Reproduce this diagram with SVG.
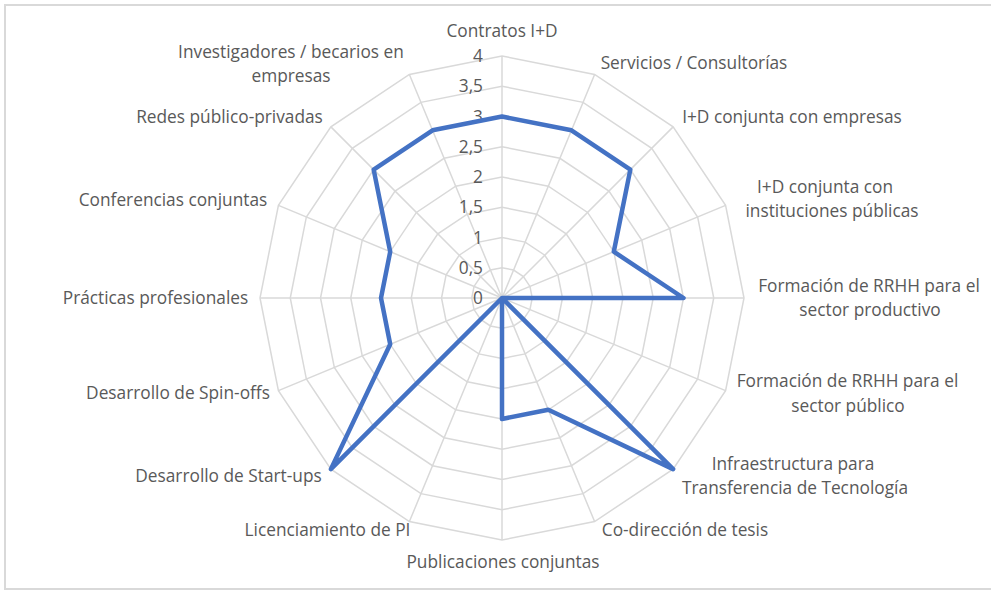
<svg xmlns="http://www.w3.org/2000/svg" width="991" height="590" viewBox="0 0 991 590">
<style>
.grid{fill:none;stroke:#d9d9d9;stroke-width:1.5}
.lbl{font-family:"Open Sans","Liberation Sans",sans-serif;font-size:17.3px;fill:#595959;text-anchor:middle}
.tick{font-family:"Open Sans","Liberation Sans",sans-serif;font-size:17.3px;fill:#595959;text-anchor:end}
.data{fill:none;stroke:#4472c4;stroke-width:4.5;stroke-linejoin:round;stroke-linecap:round}
</style>
<rect x="0" y="0" width="991" height="590" fill="#ffffff"/>
<rect x="5" y="5" width="990" height="584" fill="none" stroke="#d9d9d9" stroke-width="2"/>
<g id="grid" class="grid" transform="translate(502,298)">
<polygon points="0,-30.25 11.58,-27.95 21.39,-21.39 27.95,-11.58 30.25,0 27.95,11.58 21.39,21.39 11.58,27.95 0,30.25 -11.58,27.95 -21.39,21.39 -27.95,11.58 -30.25,0 -27.95,-11.58 -21.39,-21.39 -11.58,-27.95"/>
<polygon points="0,-60.5 23.15,-55.89 42.78,-42.78 55.89,-23.15 60.5,0 55.89,23.15 42.78,42.78 23.15,55.89 0,60.5 -23.15,55.89 -42.78,42.78 -55.89,23.15 -60.5,0 -55.89,-23.15 -42.78,-42.78 -23.15,-55.89"/>
<polygon points="0,-90.75 34.73,-83.84 64.17,-64.17 83.84,-34.73 90.75,0 83.84,34.73 64.17,64.17 34.73,83.84 0,90.75 -34.73,83.84 -64.17,64.17 -83.84,34.73 -90.75,0 -83.84,-34.73 -64.17,-64.17 -34.73,-83.84"/>
<polygon points="0,-121 46.3,-111.79 85.56,-85.56 111.79,-46.3 121,0 111.79,46.3 85.56,85.56 46.3,111.79 0,121 -46.3,111.79 -85.56,85.56 -111.79,46.3 -121,0 -111.79,-46.3 -85.56,-85.56 -46.3,-111.79"/>
<polygon points="0,-151.25 57.88,-139.74 106.95,-106.95 139.74,-57.88 151.25,0 139.74,57.88 106.95,106.95 57.88,139.74 0,151.25 -57.88,139.74 -106.95,106.95 -139.74,57.88 -151.25,0 -139.74,-57.88 -106.95,-106.95 -57.88,-139.74"/>
<polygon points="0,-181.5 69.46,-167.68 128.34,-128.34 167.68,-69.46 181.5,0 167.68,69.46 128.34,128.34 69.46,167.68 0,181.5 -69.46,167.68 -128.34,128.34 -167.68,69.46 -181.5,0 -167.68,-69.46 -128.34,-128.34 -69.46,-167.68"/>
<polygon points="0,-211.75 81.03,-195.63 149.73,-149.73 195.63,-81.03 211.75,0 195.63,81.03 149.73,149.73 81.03,195.63 0,211.75 -81.03,195.63 -149.73,149.73 -195.63,81.03 -211.75,0 -195.63,-81.03 -149.73,-149.73 -81.03,-195.63"/>
<polygon points="0,-242 92.61,-223.58 171.12,-171.12 223.58,-92.61 242,0 223.58,92.61 171.12,171.12 92.61,223.58 0,242 -92.61,223.58 -171.12,171.12 -223.58,92.61 -242,0 -223.58,-92.61 -171.12,-171.12 -92.61,-223.58"/>
<path d="M0,0L0,-242M0,0L92.61,-223.58M0,0L171.12,-171.12M0,0L223.58,-92.61M0,0L242,0M0,0L223.58,92.61M0,0L171.12,171.12M0,0L92.61,223.58M0,0L0,242M0,0L-92.61,223.58M0,0L-171.12,171.12M0,0L-223.58,92.61M0,0L-242,0M0,0L-223.58,-92.61M0,0L-171.12,-171.12M0,0L-92.61,-223.58"/>
</g>
<g id="ticks" class="tick">
<text x="483" y="304">0</text>
<text x="483" y="274">0,5</text>
<text x="483" y="243.5">1</text>
<text x="483" y="213">1,5</text>
<text x="483" y="183">2</text>
<text x="483" y="153">2,5</text>
<text x="483" y="122.5">3</text>
<text x="483" y="92">3,5</text>
<text x="483" y="62">4</text>
</g>
<g id="connectors">
<polygon class="data" transform="translate(502,298)" points="0,-181.5 69.46,-167.68 128.34,-128.34 111.79,-46.3 181.5,0 0,0 171.12,171.12 46.3,111.79 0,121 0,0 -171.12,171.12 -111.79,46.3 -121,0 -111.79,-46.3 -128.34,-128.34 -69.46,-167.68"/>
</g>
<g id="label-contratos" class="lbl"><text x="502" y="37">Contratos I+D</text></g>
<g id="label-servicios" class="lbl"><text x="694" y="69">Servicios / Consultorías</text></g>
<g id="label-id-empresas" class="lbl"><text x="792" y="123">I+D conjunta con empresas</text></g>
<g id="label-id-instituciones" class="lbl"><text x="825" y="193">I+D conjunta con</text><text x="832" y="217">instituciones públicas</text></g>
<g id="label-rrhh-productivo" class="lbl"><text x="869" y="292">Formación de RRHH para el</text><text x="870" y="316">sector productivo</text></g>
<g id="label-rrhh-publico" class="lbl"><text x="847.5" y="387">Formación de RRHH para el</text><text x="848" y="412">sector público</text></g>
<g id="label-infraestructura" class="lbl"><text x="793" y="470">Infraestructura para</text><text x="795" y="494">Transferencia de Tecnología</text></g>
<g id="label-codireccion" class="lbl"><text x="685" y="536">Co-dirección de tesis</text></g>
<g id="label-publicaciones" class="lbl"><text x="503" y="568">Publicaciones conjuntas</text></g>
<g id="label-licenciamiento" class="lbl"><text x="327.5" y="536">Licenciamiento de PI</text></g>
<g id="label-startups" class="lbl"><text x="228.5" y="482">Desarrollo de Start-ups</text></g>
<g id="label-spinoffs" class="lbl"><text x="178" y="399">Desarrollo de Spin-offs</text></g>
<g id="label-practicas" class="lbl"><text x="155.5" y="304">Prácticas profesionales</text></g>
<g id="label-conferencias" class="lbl"><text x="173" y="206">Conferencias conjuntas</text></g>
<g id="label-redes" class="lbl"><text x="229.5" y="123">Redes público-privadas</text></g>
<g id="label-investigadores" class="lbl"><text x="291" y="58">Investigadores / becarios en</text><text x="291" y="82">empresas</text></g>
</svg>
